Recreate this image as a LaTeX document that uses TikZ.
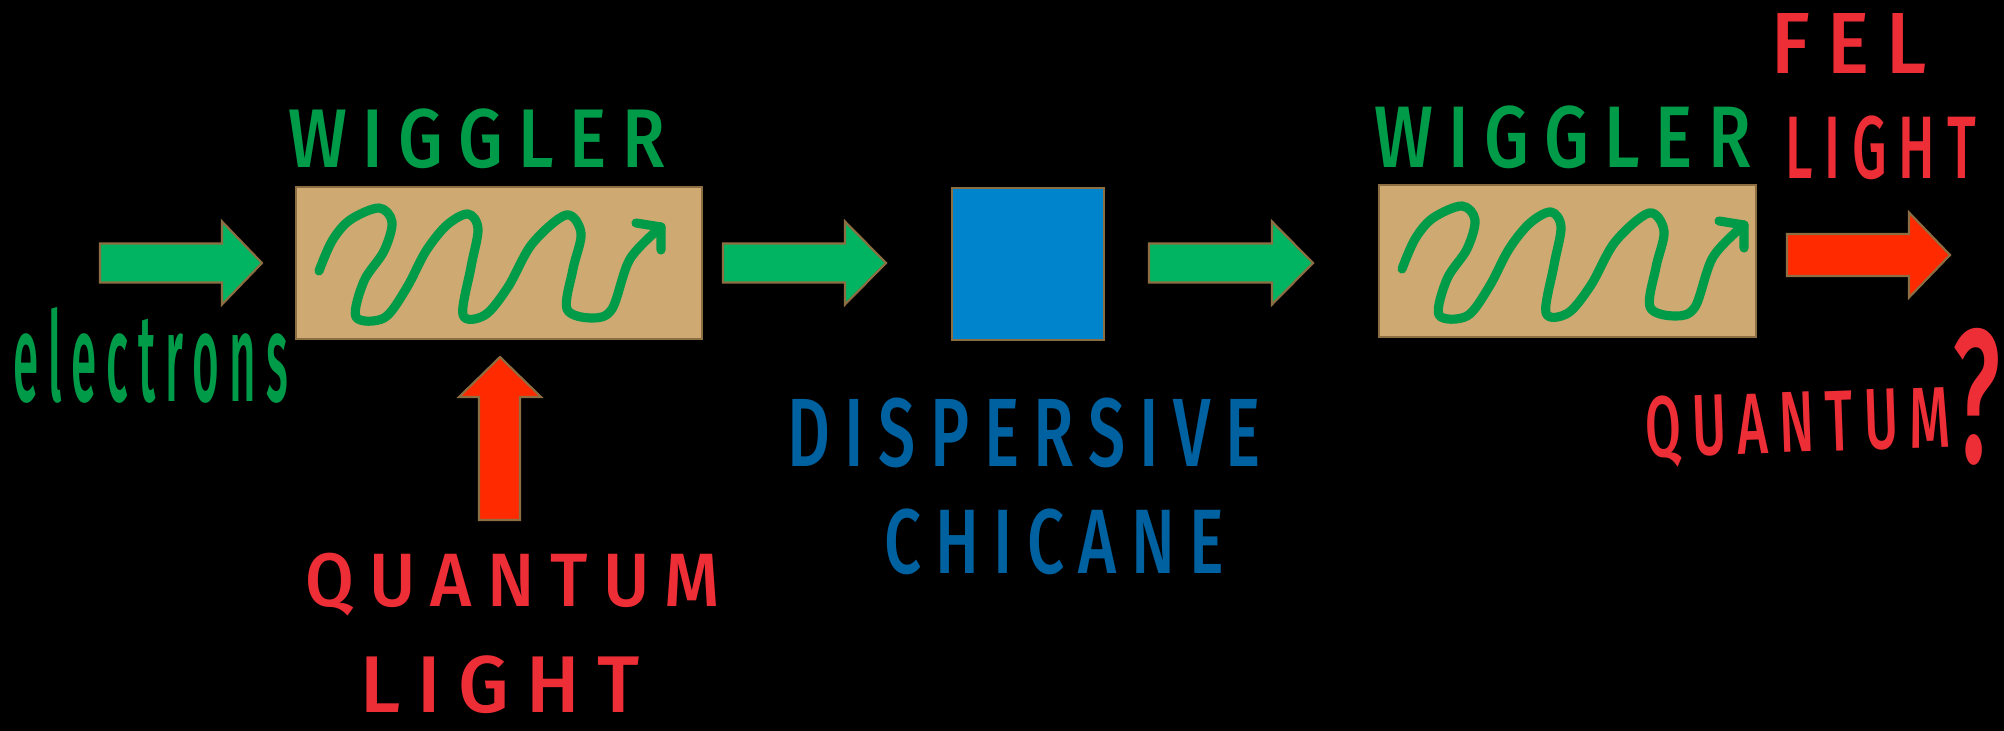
\documentclass[tikz,border=0pt]{standalone}
\usepackage{fontspec}
\setmainfont{Fira Sans Medium}
\usepackage{graphicx}
\newlength\pxu
\setlength\pxu{0.01cm}
\definecolor{inkgreen}{HTML}{009B48}
\definecolor{beamgreen}{HTML}{00B461}
\definecolor{rimbrown}{HTML}{8C6E42}
\definecolor{boxtan}{HTML}{CFA972}
\definecolor{lightred}{HTML}{FF2A00}
\definecolor{inkred}{HTML}{EE2E36}
\definecolor{chicaneblue}{HTML}{0084CB}
\definecolor{inkblue}{HTML}{0061A0}
% text squeezed into a given width and total height (in px units)
\newcommand\fitto[3]{\resizebox*{#1\pxu}{#2\pxu}{\addfontfeature{LetterSpace=22}#3}}
% horizontal block arrow: style, tail x, head x, tip x, centre y, shaft half, head half
\newcommand\fatarrow[7]{%
  \filldraw[#1] (#2,#5-#6) -- (#3,#5-#6) -- (#3,#5-#7) -- (#4,#5)
    -- (#3,#5+#7) -- (#3,#5+#6) -- (#2,#5+#6) -- cycle;}
\tikzset{
  label/.style={inner sep=0pt, outer sep=0pt, anchor=north west},
  wbox/.style={draw=rimbrown, line width=0.6pt, fill=boxtan, inner sep=0pt,
    outer sep=0pt, anchor=north west, minimum width=#1\pxu, minimum height=152\pxu},
  greenarrow/.style={fill=beamgreen, draw=rimbrown, line width=0.6pt},
  redarrow/.style={fill=lightred, draw=rimbrown, line width=0.6pt},
  wigglepen/.style={draw=inkgreen, line width=2.6pt, line cap=round, line join=round},
  wiggle/.pic={
    \draw[wigglepen] plot[smooth, tension=0.55] coordinates {
      (23,84) (36,54) (54,33) (83,21) (96,35) (88,64) (68,94) (60,130)
      (88,131) (110,102) (130,64) (151,38) (172,27) (182,42) (175,80) (167,128)
      (189,128) (212,100) (236,57) (270,28) (285,46) (277,82) (271,122)
      (296,131) (316,122) (334,72) (365,40)};
    \draw[wigglepen] (340,36) -- (365,40) -- (365,63);
  }
}
\begin{document}
\begin{tikzpicture}[x=0.01cm, y=-0.01cm]
  \fill[black] (0,0) rectangle (2004,731);
  \useasboundingbox (0,0) rectangle (2004,731);

  % beam line elements
  \node[wbox=406] (wig1) at (296,187) {};
  \pic at (296,187) {wiggle};
  \node[draw=rimbrown, line width=0.6pt, fill=chicaneblue, inner sep=0pt, outer sep=0pt,
    anchor=north west, minimum width=152\pxu, minimum height=152\pxu] (chicane) at (952,188) {};
  \node[wbox=377] (wig2) at (1379,185) {};
  \pic at (1379,185) {wiggle};

  % block arrows along the beam
  \fatarrow{greenarrow}{100}{222}{262}{263}{19.5}{41.5}
  \fatarrow{greenarrow}{723}{845}{886}{263}{19.5}{41.5}
  \fatarrow{greenarrow}{1149}{1272}{1313}{263}{19.5}{41.5}
  \fatarrow{redarrow}{1787}{1909}{1950}{255}{21}{42.5}
  \filldraw[redarrow] (479,520) -- (479,397) -- (459,397) -- (500,357)
    -- (541,397) -- (520,397) -- (520,520) -- cycle;

  % labels
  \node[label, text=inkgreen] (t-wig1) at (288,109) {\fitto{377}{60}{WIGGLER}};
  \node[label, text=inkgreen] (t-wig2) at (1374,106) {\fitto{377}{63}{WIGGLER}};
  \node[label, text=inkgreen] (t-el) at (13,307) {\fitto{275}{96}{electrons}};
  \node[label, text=inkred] (t-q1) at (305,553) {\fitto{415}{63}{QUANTUM}};
  \node[label, text=inkred] (t-l1) at (360,656) {\fitto{280}{58}{LIGHT}};
  \node[label, text=inkblue] (t-dis) at (787,398) {\fitto{474}{70}{DISPERSIVE}};
  \node[label, text=inkblue] (t-chi) at (884,509) {\fitto{340}{66}{CHICANE}};
  \node[label, text=inkred] (t-fel) at (1771,13) {\fitto{156}{60}{FEL}};
  \node[label, text=inkred] (t-l2) at (1785,116) {\fitto{191}{64}{LIGHT}};
  \node[inner sep=0pt, text=inkred, rotate=2] (t-q2) at (1798,427) {\fitto{305}{72}{QUANTUM}};
  \node[label, text=inkred] (t-qm) at (1952,328) {\resizebox*{48\pxu}{137\pxu}{?}};
\end{tikzpicture}
\end{document}
